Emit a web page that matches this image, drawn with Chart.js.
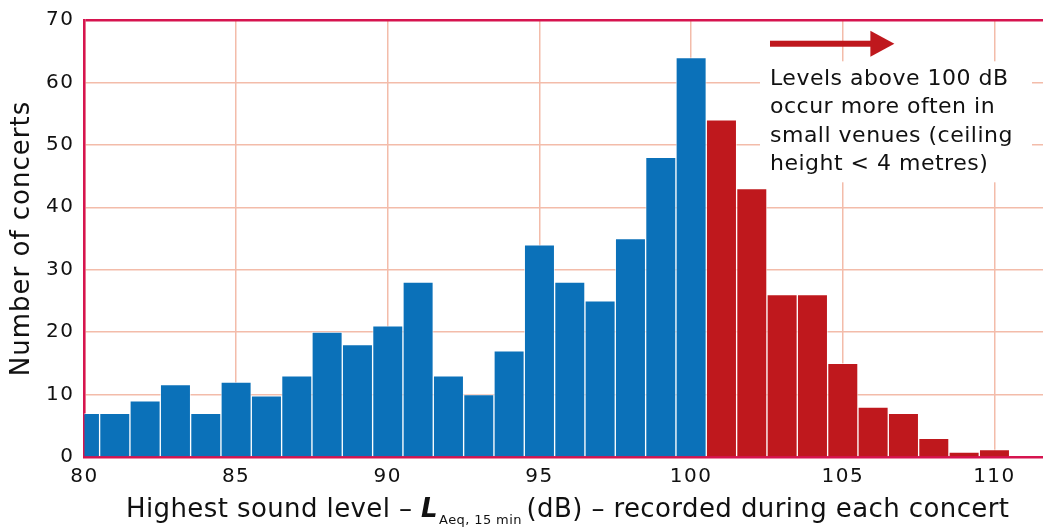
<!DOCTYPE html>
<html>
<head>
<meta charset="utf-8">
<script src="https://cdn.jsdelivr.net/npm/chart.js@4.4.1/dist/chart.umd.min.js"></script>
<style>
  html, body { margin:0; padding:0; background:#fff; overflow:hidden; }
  #wrap { width:1043px; height:529px; position:relative; }
</style>
</head>
<body>
<div id="wrap"><canvas id="chart"></canvas></div>
<script>
// sound level bins (dB) and number of concerts in each
const levels = [80,81,82,83,84,85,86,87,88,89,90,91,92,93,94,95,96,97,98,99,100,101,102,103,104,105,106,107,108,109,110];
const counts = [7,7,9,11.6,7,12,9.8,13,20,18,21,28,13,10,17,34,28,25,35,48,64,54,43,26,26,15,8,7,3,0.8,1.2];
const loudFrom = 100;   // bins above this are the red ones

const noteLines = ['Levels above 100 dB', 'occur more often in', 'small venues (ceiling', 'height < 4 metres)'];
const xTitleParts = ['Highest sound level – ', 'L', 'Aeq, 15 min', ' (dB) – recorded during each concert'];
const yTitle = 'Number of concerts';

const FONT = '"DejaVu Sans", sans-serif';
const BLUE = '#0b71b9', RED = '#bf181d', FRAME = '#d6144f', GRID = '#f3bcaa';

// arrow, white note box, axis titles (x title needs a subscript)
const extras = {
  id: 'extras',
  beforeDraw(c) { c.ctx.letterSpacing = '1.5px'; },   // wider tick digits
  afterDraw(c) {
    const ctx = c.ctx, x = c.scales.x, y = c.scales.y, a = c.chartArea;
    ctx.save();
    ctx.letterSpacing = '0px';

    // arrow
    const ax0 = x.getPixelForValue(102.6), ax1 = x.getPixelForValue(106.7), ay = y.getPixelForValue(66.2);
    ctx.fillStyle = RED;
    ctx.fillRect(ax0, ay - 3, ax1 - ax0 - 22, 6);
    ctx.beginPath();
    ctx.moveTo(ax1 - 24, ay - 13);
    ctx.lineTo(ax1, ay);
    ctx.lineTo(ax1 - 24, ay + 13);
    ctx.closePath();
    ctx.fill();

    // note
    const nx = x.getPixelForValue(102.6), ny = y.getPixelForValue(60.5);
    ctx.fillStyle = '#fff';
    ctx.fillRect(nx - 10, ny - 18, 272, 121);
    ctx.fillStyle = '#111';
    ctx.font = '22px ' + FONT;
    ctx.letterSpacing = '0.5px';
    ctx.textBaseline = 'middle';
    ctx.textAlign = 'left';
    noteLines.forEach((t, i) => ctx.fillText(t, nx, ny + i * 28.4));

    // x title
    const big = '26px ' + FONT, bold = 'italic bold 26px ' + FONT, sub = '13px ' + FONT;
    const fonts = [big, bold, sub, big];
    const shift = [0, 0, 1, -4];
    ctx.letterSpacing = '0.4px';
    let w = 0;
    xTitleParts.forEach((t, i) => { ctx.font = fonts[i]; w += ctx.measureText(t).width + shift[i]; });
    let px = (a.left + a.right) / 2 - w / 2 + 4;
    const py = 510;
    xTitleParts.forEach((t, i) => {
      ctx.font = fonts[i];
      px += shift[i];
      ctx.fillText(t, px, i === 2 ? py + 11 : py);
      px += ctx.measureText(t).width;
    });

    // y title
    ctx.translate(22, (a.top + a.bottom) / 2);
    ctx.rotate(-Math.PI / 2);
    ctx.textAlign = 'center';
    ctx.font = '26px ' + FONT;
    ctx.letterSpacing = '1px';
    ctx.fillText(yTitle, 0, 0);
    ctx.restore();
  }
};

new Chart(document.getElementById('chart'), {
  type: 'bar',
  data: {
    datasets: [{
      data: levels.map((l, i) => ({ x: l, y: counts[i] })),
      backgroundColor: levels.map(l => l > loudFrom ? RED : BLUE),
      borderColor: 'rgba(255,255,255,0.6)',
      borderWidth: 1,
      barPercentage: 1,
      categoryPercentage: 1,
      clip: 0
    }]
  },
  options: {
    responsive: true,
    maintainAspectRatio: false,
    animation: false,
    layout: { padding: { top: 0, left: 39, right: 0, bottom: 32 } },
    plugins: { legend: { display: false }, tooltip: { enabled: false } },
    scales: {
      x: {
        type: 'linear',
        min: 80, max: 111.6,
        offset: false,
        ticks: { stepSize: 5, includeBounds: false, color: '#111', font: { family: FONT, size: 20 }, padding: 8, maxRotation: 0 },
        grid: { offset: false, color: GRID, lineWidth: 1.5, drawTicks: false },
        border: { color: FRAME, width: 2.5 }
      },
      y: {
        min: 0, max: 70,
        ticks: { stepSize: 10, color: '#111', font: { family: FONT, size: 20, lineHeight: 1 }, padding: 10 },
        grid: {
          color: ctx => ctx.tick && ctx.tick.value === 70 ? FRAME : GRID,
          lineWidth: ctx => ctx.tick && ctx.tick.value === 70 ? 2.5 : 1.5,
          drawTicks: false
        },
        border: { color: FRAME, width: 2.5 }
      }
    }
  },
  plugins: [extras]
});
</script>
</body>
</html>
